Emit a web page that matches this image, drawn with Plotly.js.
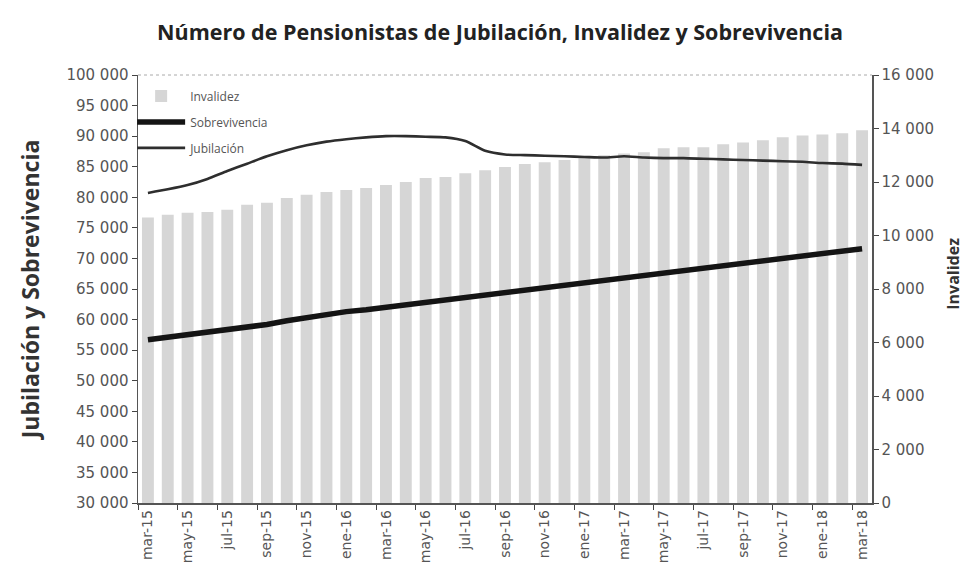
<!DOCTYPE html>
<html>
<head>
<meta charset="utf-8">
<script src="https://cdn.plot.ly/plotly-3.0.1.min.js"></script>
<style>html,body{margin:0;padding:0;background:#fff;}#chart{width:969px;height:576px;}</style>
</head>
<body>
<div id="chart"></div>
<script>
const months = ["mar-15","abr-15","may-15","jun-15","jul-15","ago-15","sep-15","oct-15","nov-15","dic-15",
  "ene-16","feb-16","mar-16","abr-16","may-16","jun-16","jul-16","ago-16","sep-16","oct-16","nov-16","dic-16",
  "ene-17","feb-17","mar-17","abr-17","may-17","jun-17","jul-17","ago-17","sep-17","oct-17","nov-17","dic-17",
  "ene-18","feb-18","mar-18"];

const invalidez = [10670,10780,10850,10880,10960,11150,11220,11400,11520,11630,
  11700,11780,11890,12000,12150,12190,12330,12440,12560,12670,12740,12820,
  12930,13000,13070,13110,13260,13300,13300,13410,13480,13560,13670,13740,
  13780,13820,13930];

const sobrevivencia = [56700,57100,57500,57800,58200,58700,59200,59800,60300,60900,
  61300,61600,62000,62400,62800,63200,63500,63900,64300,64700,65100,65500,
  66000,66400,66800,67200,67600,68000,68400,68800,69200,69700,70100,70500,
  70900,71300,71600];

const jubilacion = [80700,81300,82000,83000,84300,85500,86700,87700,88500,89100,
  89500,89800,90000,90000,89900,89800,89200,87600,87000,86900,86800,86700,
  86600,86500,86700,86500,86400,86400,86300,86200,86100,86000,85900,85800,
  85600,85500,85300];

const traces = [
  {type:'bar', name:'Invalidez', x:months, y:invalidez, yaxis:'y',
   marker:{color:'#d6d6d6', line:{width:0}}, legendgroup:'a'},
  {type:'scatter', mode:'lines', name:'Sobrevivencia', x:months, y:sobrevivencia, yaxis:'y2',
   line:{color:'#141414', width:5.5}, legendgroup:'b'},
  {type:'scatter', mode:'lines', name:'Jubilación', x:months, y:jubilacion, yaxis:'y2',
   line:{color:'#2e2e2e', width:2.6, shape:'spline', smoothing:0.6}, legendgroup:'c'}
];

const tickFont = {family:'DejaVu Sans, sans-serif', size:15, color:'#555'};

const layout = {
  width:969, height:576,
  margin:{l:138, r:97, t:75, b:73},
  paper_bgcolor:'#fff', plot_bgcolor:'#fff',
  separators:', ',
  bargap:0.4,
  showlegend:true,
  title:{text:'Número de Pensionistas de Jubilación, Invalidez y Sobrevivencia',
    font:{family:'Open Sans, sans-serif', size:21.5, color:'#222', weight:'bold'},
    x:0.516, xanchor:'center', y:0.943, yanchor:'middle'},
  legend:{x:-0.008, y:0.985, xanchor:'left', yanchor:'top', bgcolor:'rgba(0,0,0,0)',
    font:{family:'Open Sans, sans-serif', size:12, color:'#555'}, itemwidth:48,
    tracegroupgap:7, traceorder:'grouped'},
  xaxis:{type:'category', dtick:2, tick0:0, tickson:'boundaries', tickangle:-90,
    ticks:'outside', ticklen:5, tickcolor:'#444', showline:true, linecolor:'#555', linewidth:1.5,
    showgrid:false, tickfont:{family:'DejaVu Sans, sans-serif', size:14, color:'#555'}},
  yaxis:{side:'right', range:[0,16000], dtick:2000, tickformat:',d',
    ticks:'outside', ticklen:5, tickcolor:'#444', showline:true, linecolor:'#555', linewidth:1.5,
    showgrid:false, zeroline:false, tickfont:tickFont},
  yaxis2:{overlaying:'y', side:'left', range:[30000,100000], dtick:5000, tickformat:',d',
    ticks:'outside', ticklen:5, tickcolor:'#444', showline:true, linecolor:'#555', linewidth:1.5,
    showgrid:false, zeroline:false, tickfont:tickFont,
    title:{text:'Jubilación y Sobrevivencia',
      font:{family:'Open Sans, sans-serif', size:23, color:'#333', weight:'bold'}, standoff:20}},
  annotations:[{text:'Invalidez', xref:'paper', yref:'paper', x:1.11, y:0.535,
    xanchor:'center', yanchor:'middle', textangle:-90, showarrow:false,
    font:{family:'Open Sans, sans-serif', size:16, color:'#333', weight:'bold'}}],
  shapes:[{type:'line', xref:'paper', yref:'paper', x0:0, x1:1, y0:1, y1:1,
    line:{color:'#aaa', width:1, dash:'dot'}}]
};

Plotly.newPlot('chart', traces, layout, {displayModeBar:false, staticPlot:true});
</script>
</body>
</html>
